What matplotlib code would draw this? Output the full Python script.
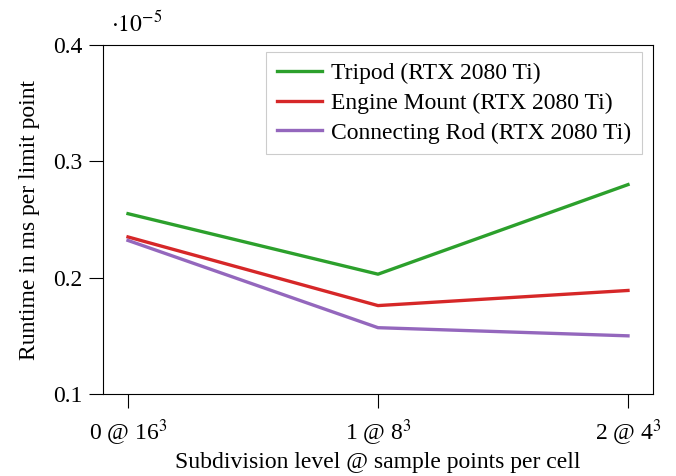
import matplotlib
matplotlib.use("Agg")
import matplotlib.pyplot as plt

plt.rcParams['font.family'] = ['Liberation Serif', 'DejaVu Serif']
plt.rcParams['mathtext.fontset'] = 'stix'

# data (runtime in ms per limit point, scaled by 1e-5)
levels = [0, 1, 2]
tick_labels = [r'0 @ 16$^3$', r'1 @ 8$^3$', r'2 @ 4$^3$']
tripod = [0.255, 0.203, 0.280]
engine_mount = [0.235, 0.176, 0.189]
connecting_rod = [0.232, 0.157, 0.150]
series_names = ['Tripod (RTX 2080 Ti)', 'Engine Mount (RTX 2080 Ti)',
                'Connecting Rod (RTX 2080 Ti)']
colors = ['#2ca02c', '#d62728', '#9467bd']

fs = 17

fig = plt.figure(figsize=(6.76, 4.76), dpi=100)
ax = fig.add_axes([103/676, 1 - 394/476, 550/676, 349/476])

for ys, name, c in zip([tripod, engine_mount, connecting_rod], series_names, colors):
    ax.plot(levels, ys, color=c, lw=2.4, label=name)

ax.set_xlim(-0.1, 2.1)
ax.set_ylim(0.1, 0.4)
ax.set_xticks(levels)
ax.set_xticklabels(tick_labels)
ax.set_yticks([0.1, 0.2, 0.3, 0.4])
ax.set_yticklabels(['0.1', '0.2', '0.3', '0.4'])
ax.tick_params(axis='both', direction='out', length=10, width=0.8,
               labelsize=fs, top=False, right=False)
ax.tick_params(axis='x', pad=7)
ax.tick_params(axis='y', pad=5)
for s in ax.spines.values():
    s.set_linewidth(0.8)

ax.set_xlabel('Subdivision level @ sample points per cell', fontsize=fs, labelpad=3)
ax.set_ylabel('Runtime in ms per limit point', fontsize=fs, labelpad=9)
ax.text(0.015, 1.025, r'$\cdot 10^{-5}$', transform=ax.transAxes, fontsize=fs,
        ha='left', va='bottom')

leg = ax.legend(loc='upper right', bbox_to_anchor=(1 - 11/550, 1 - 7/349),
                borderaxespad=0, fontsize=fs, frameon=True, fancybox=False,
                edgecolor='#cccccc', framealpha=1, handlelength=1.9,
                handletextpad=0.4, labelspacing=0.35, borderpad=0.45)
leg.get_frame().set_linewidth(0.8)

fig.savefig('out.png', dpi=100)
